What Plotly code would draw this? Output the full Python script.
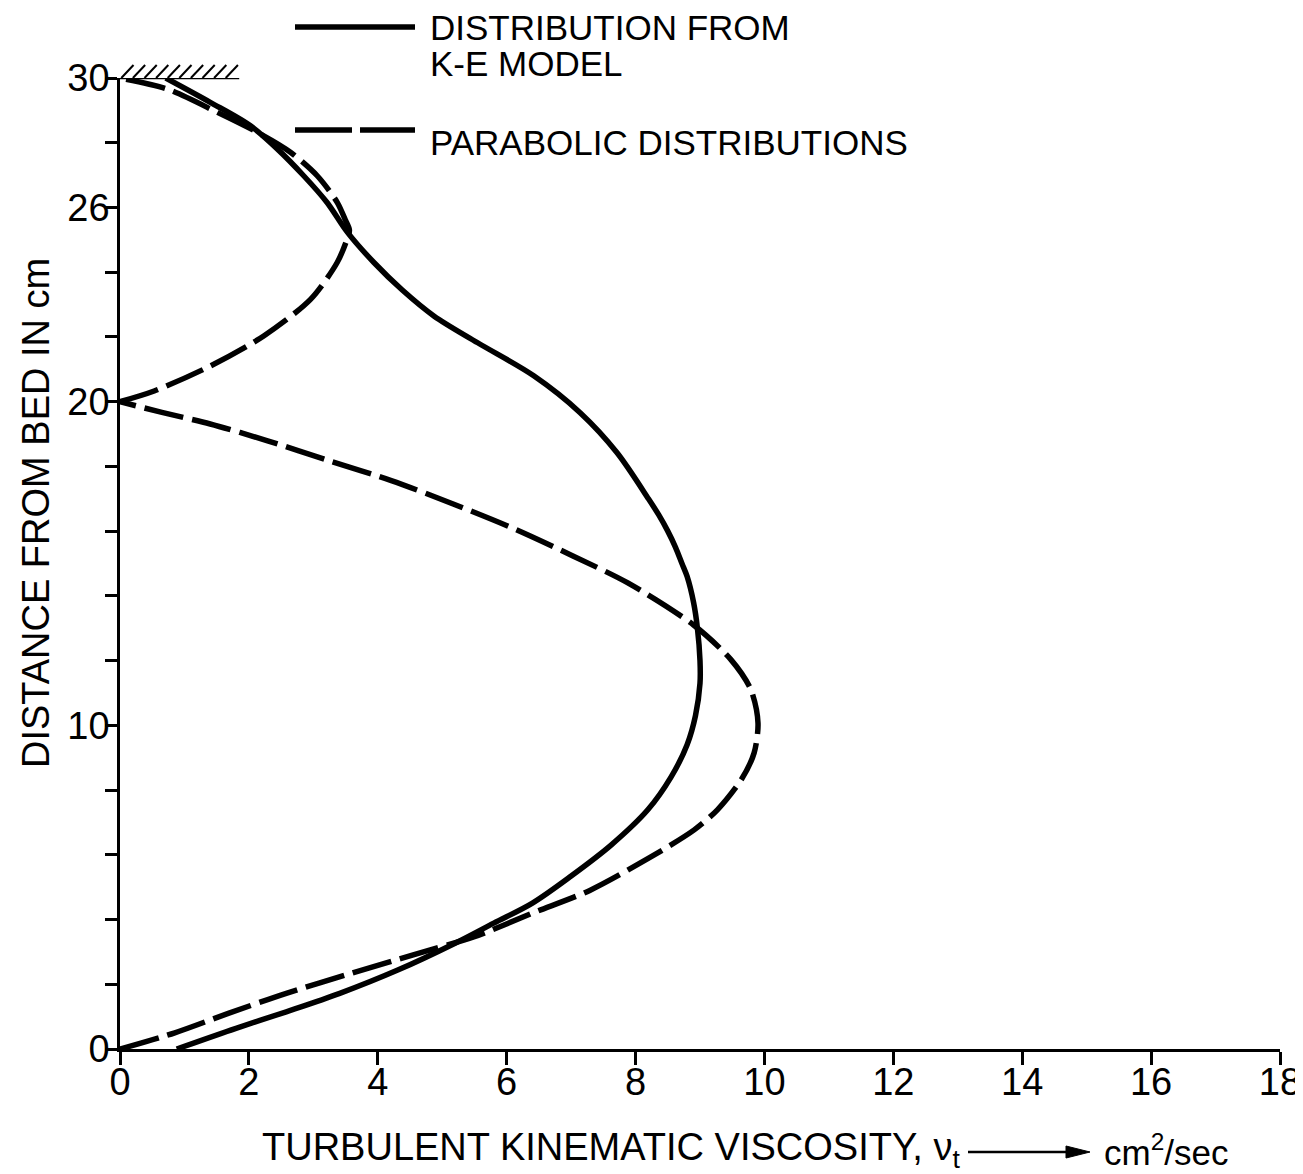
import plotly.graph_objects as go

# ---- data ----
ke_x = [0.88, 1.80, 2.58, 3.41, 4.31, 5.20, 5.80, 6.40, 6.99, 7.62, 8.19, 8.55, 8.80, 8.93, 9.00, 9.00,
        8.96, 8.90, 8.80, 8.72, 8.62, 8.50, 8.36, 8.20, 7.71, 7.14, 6.42, 5.55, 4.87, 4.38, 3.94, 3.53, 3.21,
        2.85, 2.44, 2.02, 1.40, 0.71]
ke_y = [0.00, 0.64, 1.15, 1.72, 2.44, 3.27, 3.89, 4.51, 5.33, 6.30, 7.39, 8.40, 9.40, 10.30, 11.30, 12.00,
        13.00, 13.80, 14.60, 15.00, 15.50, 16.00, 16.50, 17.00, 18.43, 19.66, 20.80, 21.82, 22.65, 23.45, 24.30, 25.23, 26.16,
        26.98, 27.81, 28.53, 29.25, 30.00]

para_low_x = [0.00, 0.85, 1.68, 2.58, 3.59, 4.55, 5.50, 6.40, 7.29, 8.19, 8.91, 9.27, 9.64, 9.84, 9.90,
              9.79, 9.48, 8.90, 7.88, 7.02, 6.13, 5.17, 4.21, 3.25, 2.29, 1.40, 0.65, 0.00]
para_low_y = [0.00, 0.50, 1.10, 1.72, 2.34, 2.91, 3.47, 4.20, 4.90, 5.88, 6.77, 7.39, 8.32, 9.15, 10.07,
              11.10, 12.03, 13.10, 14.40, 15.24, 16.06, 16.84, 17.56, 18.17, 18.79, 19.31, 19.67, 20.00]

para_up_x = [0.00, 0.53, 1.40, 2.23, 2.96, 3.37, 3.52, 3.56, 3.50, 3.37, 3.06, 2.65, 2.18, 1.51, 0.73, 0.00]
para_up_y = [20.00, 20.33, 21.10, 22.03, 23.17, 24.30, 25.00, 25.30, 25.60, 26.16, 26.98, 27.70, 28.27, 28.94, 29.66, 30.00]

x_ticks = [0, 2, 4, 6, 8, 10, 12, 14, 16, 18]
y_ticks = list(range(0, 31, 2))
y_labels = {0: "0", 10: "10", 20: "20", 26: "26", 30: "30"}

legend_solid_1 = "DISTRIBUTION FROM"
legend_solid_2 = "K-E MODEL"
legend_dash = "PARABOLIC DISTRIBUTIONS"

# ---- layout geometry (page body has an 8px margin) ----
OFF = 8
W, H = 1295, 1166
L, T = 112, 70
PW, PH = 1160, 971
R = W - L - PW
B = H - T - PH
FONT = "Liberation Sans, Arial, Helvetica, sans-serif"


def px(xr):
    return (xr - OFF - L) / PW


def py(yr):
    return (H - B - (yr - OFF)) / PH


fig = go.Figure()
LW = 5.5
fig.add_trace(go.Scatter(x=ke_x, y=ke_y, mode="lines",
                         line=dict(color="black", width=LW, shape="spline", smoothing=0.9),
                         showlegend=False))
dash = "40px,9px"
fig.add_trace(go.Scatter(x=para_low_x, y=para_low_y, mode="lines",
                         line=dict(color="black", width=LW, dash=dash, shape="spline", smoothing=0.8),
                         showlegend=False))
fig.add_trace(go.Scatter(x=para_up_x, y=para_up_y, mode="lines",
                         line=dict(color="black", width=LW, dash=dash, shape="spline", smoothing=0.8),
                         showlegend=False))

shapes = []
# wall at top with hatching
shapes.append(dict(type="line", xref="x", yref="y", x0=0, x1=1.85, y0=30, y1=30,
                   line=dict(color="black", width=2.5)))
hx = [i * 0.18 for i in range(10)]
for xi in hx:
    shapes.append(dict(type="line", xref="x", yref="paper", x0=xi + 0.02, x1=xi + 0.21,
                       y0=1.0, y1=1.0 + 13 / PH, line=dict(color="black", width=2)))

# legend lines
shapes.append(dict(type="line", xref="paper", yref="paper", x0=px(295), x1=px(415),
                   y0=py(27), y1=py(27), line=dict(color="black", width=LW)))
shapes.append(dict(type="line", xref="paper", yref="paper", x0=px(295), x1=px(352),
                   y0=py(130), y1=py(130), line=dict(color="black", width=LW)))
shapes.append(dict(type="line", xref="paper", yref="paper", x0=px(360), x1=px(415),
                   y0=py(130), y1=py(130), line=dict(color="black", width=LW)))

# arrow in x title
shapes.append(dict(type="line", xref="paper", yref="paper", x0=px(968), x1=px(1075),
                   y0=py(1152), y1=py(1152), line=dict(color="black", width=2.5)))
shapes.append(dict(type="path", xref="paper", yref="paper",
                   path=f"M {px(1066)} {py(1146)} L {px(1090)} {py(1152)} L {px(1066)} {py(1158)} Z",
                   fillcolor="black", line=dict(color="black", width=1)))

annotations = [
    dict(text=legend_solid_1, xref="paper", yref="paper", x=px(428), y=py(28), xanchor="left",
         yanchor="middle", align="left", showarrow=False,
         font=dict(family=FONT, size=35, color="black")),
    dict(text=legend_solid_2, xref="paper", yref="paper", x=px(428), y=py(63), xanchor="left",
         yanchor="middle", align="left", showarrow=False,
         font=dict(family=FONT, size=35, color="black")),
    dict(text=legend_dash, xref="paper", yref="paper", x=px(428), y=py(142), xanchor="left",
         yanchor="middle", align="left", showarrow=False,
         font=dict(family=FONT, size=35, color="black")),
    dict(text="TURBULENT KINEMATIC VISCOSITY, ν<sub>t</sub>", xref="paper", yref="paper",
         x=px(962), y=py(1150), xanchor="right", yanchor="middle", showarrow=False,
         font=dict(family=FONT, size=38, color="black")),
    dict(text="cm<sup>2</sup>/sec", xref="paper", yref="paper",
         x=px(1102), y=py(1150), xanchor="left", yanchor="middle", showarrow=False,
         font=dict(family=FONT, size=35, color="black")),
    dict(text="DISTANCE FROM BED IN cm", xref="paper", yref="paper", textangle=-90,
         x=px(36), y=py(513), xanchor="center", yanchor="middle", showarrow=False,
         font=dict(family=FONT, size=38, color="black")),
]

fig.update_layout(
    width=W, height=H,
    margin=dict(l=L, r=R, t=T, b=B, autoexpand=False),
    paper_bgcolor="white", plot_bgcolor="white",
    shapes=shapes, annotations=annotations,
    showlegend=False,
    xaxis=dict(range=[0, 18], tickvals=x_ticks, ticktext=[str(v) for v in x_ticks],
               automargin=False,
               showgrid=False, zeroline=False, showline=True, linecolor="black", linewidth=2.5,
               ticks="outside", ticklen=13, tickwidth=2.5, tickcolor="black",
               ticklabelstandoff=-15,
               tickfont=dict(family=FONT, size=38, color="black")),
    yaxis=dict(range=[0, 30], tickvals=y_ticks, ticktext=[y_labels.get(v, "") for v in y_ticks],
               automargin=False,
               showgrid=False, zeroline=False, showline=True, linecolor="black", linewidth=2.5,
               ticks="outside", ticklen=12, tickwidth=2.5, tickcolor="black",
               ticklabelstandoff=-12,
               tickfont=dict(family=FONT, size=38, color="black")),
)

fig.write_html("out.html")
